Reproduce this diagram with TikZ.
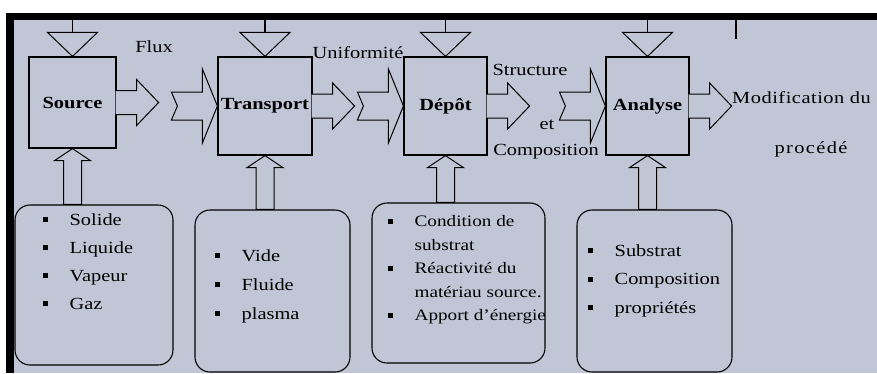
\documentclass[tikz,border=0pt]{standalone}
\usepackage{fontspec}
\setmainfont{Liberation Serif}[FakeStretch=1.2]
\usepackage{xcolor}
\usetikzlibrary{calc}

\definecolor{fond}{RGB}{192,198,214}

\tikzset{
  etape/.style={draw, line width=1.2pt, fill=fond, minimum width=83pt, minimum height=98pt,
    inner sep=0pt, font=\fontsize{17}{20}\selectfont\bfseries},
  liste/.style={draw, line width=1.1pt, rounded corners=15pt, minimum width=155pt, minimum height=162pt},
  items/.style={anchor=north west, align=left, inner sep=0pt, font=\fontsize{17}{28}\selectfont},
  lbl/.style={inner sep=0pt, font=\fontsize{17}{20}\selectfont},
  fleche/.style={draw, line width=1pt, fill=fond, line join=miter}
}
\newcommand{\carre}{\makebox[27pt][l]{\rule[3pt]{5pt}{5pt}}}

\begin{document}
\begin{tikzpicture}[x=1pt,y=-1pt]
    \useasboundingbox (0,0) rectangle (877,373);
    \fill[white] (0,0) rectangle (877,373);
    \fill[fond] (14,20) rectangle (877,373);
    \fill[black] (6,13) rectangle (877,20);
    \fill[black] (6,13) rectangle (14,373);

    % etapes du procede
    \node[etape, minimum width=87pt, minimum height=91pt] (src) at (72.5,102.5) {Source};
    \node[etape, minimum width=94pt] (trans) at (265,106) {Transport};
    \node[etape] (dep) at (445.5,106) {Dépôt};
    \node[etape] (ana) at (647.5,106) {Analyse};

    % cadres du bas
    \node[liste, minimum width=158pt, minimum height=160pt] (l1) at (94,285) {};
    \node[liste] (l2) at (272.5,291) {};
    \node[liste, minimum width=173pt, minimum height=160pt] (l3) at (458.5,283) {};
    \node[liste] (l4) at (654.5,291) {};

    \node[items] (t1) at ($(l1.north west)+(28,9)$)
      {\carre Solide\\ \carre Liquide\\ \carre Vapeur\\ \carre Gaz};
    \node[items, font=\fontsize{17}{29}\selectfont] (t2) at ($(l2.north west)+(20,40)$)
      {\carre Vide\\ \carre Fluide\\ \carre plasma};
    \node[items, font=\fontsize{16}{23.5}\selectfont] (t3) at ($(l3.north west)+(16,13)$)
      {\carre Condition de\\ \hspace*{27pt}substrat\\ \carre Réactivité du\\
       \hspace*{27pt}matériau source.\\ \carre Apport d'énergie};
    \node[items, font=\fontsize{17}{28.5}\selectfont] (t4) at ($(l4.north west)+(11,35)$)
      {\carre Substrat\\ \carre Composition\\ \carre propriétés};

    % entrees du haut
    \foreach \b in {src,trans,dep,ana} {
      \draw[fleche] ($(\b.north)+(-25,-24)$) -- ++(50,0) -- (\b.north) -- cycle;
      \draw[line width=1.2pt] ($(\b.north)+(0,-24)$) -- ++(0,-12);
    }
    \coordinate (tic) at (736,20);
    \draw[line width=1.2pt] (tic) -- ++(0,19);

    % sorties
    \foreach \b in {src,trans,dep,ana} {
      \draw[fleche] ($(\b.east)+(-1,-12)$) -- ++(21,0) -- ++(0,-11) -- ++(22,23)
        -- ++(-22,23) -- ++(0,-11) -- ++(-21,0);
    }

    % fleches vers l'etape suivante
    \foreach \n in {trans,dep,ana} {
      \draw[fleche] ($(\n.west)+(-46,-14)$) -- ++(31,0) -- ++(0,-23) -- (\n.west)
        -- ++(-15,37) -- ++(0,-23) -- ++(-31,0) -- ++(6,-14) -- cycle;
    }

    % fleches montantes
    \foreach \b/\l in {src/l1,trans/l2,dep/l3,ana/l4} {
      \draw[fleche] let \p1=(\b.south), \p2=(\l.north) in
        (\p1) -- (\x1+18pt,\y1-12pt) -- (\x1+9pt,\y1-12pt) -- (\x1+9pt,\y2)
        -- (\x1-9pt,\y2) -- (\x1-9pt,\y1-12pt) -- (\x1-18pt,\y1-12pt) -- cycle;
    }

    % textes
    \node[lbl] (flux) at (154,47) {Flux};
    \node[lbl] (unif) at (358,53) {Uniformité};
    \node[lbl] (struc) at (530,70) {Structure};
    \node[lbl] (et) at (547,125) {et};
    \node[lbl] (compo) at (546,152) {Composition};
    \node[lbl, anchor=west, font=\fontsize{17}{20}\selectfont\addfontfeatures{LetterSpace=3}]
      (modif) at (732,98) {Modification du};
    \node[lbl, font=\fontsize{17}{20}\selectfont\addfontfeatures{LetterSpace=8}]
      (proc) at (811,149) {procédé};
\end{tikzpicture}
\end{document}
